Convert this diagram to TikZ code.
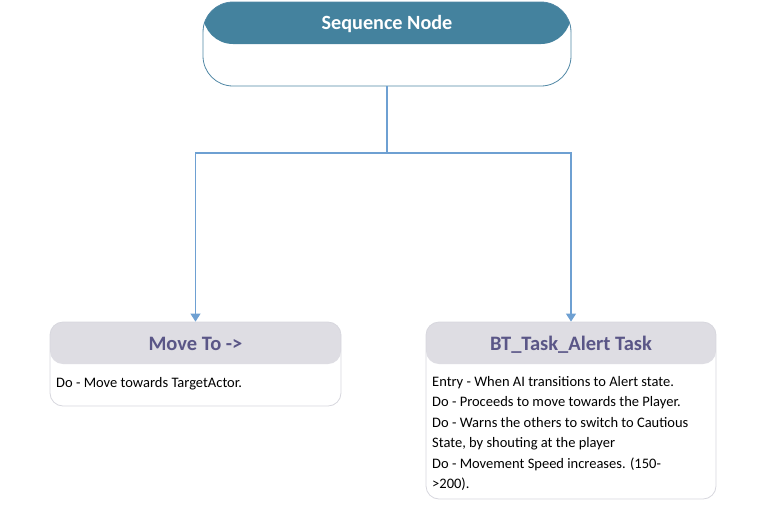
\documentclass[tikz,border=0pt]{standalone}
\usepackage{fontspec}
\setmainfont{Carlito}
\usetikzlibrary{arrows.meta}
\definecolor{seqteal}{RGB}{68,130,158}
\definecolor{seqedge}{RGB}{80,135,165}
\definecolor{hdrgray}{RGB}{222,221,227}
\definecolor{boxedge}{RGB}{215,215,222}
\definecolor{titlepurple}{RGB}{90,86,135}
\definecolor{linkblue}{RGB}{110,160,210}
\tikzset{
  seqbox/.style={draw=seqedge, line width=0.8pt, rounded corners=30pt, inner sep=0pt,
    path picture={\fill[seqteal] (path picture bounding box.north west) rectangle ([yshift=-42pt]path picture bounding box.north east);}},
  taskbox/.style={draw=boxedge, line width=0.8pt, fill=white, rounded corners=13pt, inner sep=0pt,
    path picture={\fill[hdrgray] (path picture bounding box.north west) rectangle ([yshift=-42pt]path picture bounding box.north east);}},
  seqtitle/.style={anchor=base, text=white, font=\fontsize{20.2}{24}\selectfont\bfseries, inner sep=0pt},
  tasktitle/.style={anchor=base, text=titlepurple, font=\fontsize{20.5}{24}\selectfont\bfseries, inner sep=0pt},
  bodytext/.style={anchor=north west, align=left, inner sep=0pt, font=\fontsize{14.5}{20.5}\selectfont},
  link/.style={draw=linkblue, line width=1.1pt, -{Triangle[width=10pt,length=8pt]}},
  linkplain/.style={draw=linkblue, line width=1.1pt}
}
\begin{document}
\begin{tikzpicture}[x=1pt,y=-1pt]
\useasboundingbox (0,0) rectangle (773,515);
\node[seqbox, minimum width=368pt, minimum height=84pt] (seq) at (387,44) {};
\node[seqtitle] (seqt) at (387,29) {Sequence Node};

\node[taskbox, minimum width=291pt, minimum height=84pt] (move) at (195.5,364) {};
\node[tasktitle] (movet) at (195.5,350) {Move To ->};
\node[bodytext] (moveb) at (56,372.65) {\strut Do - Move towards TargetActor.};

\node[taskbox, minimum width=290pt, minimum height=177pt] (alert) at (571,410.5) {};
\node[tasktitle] (alertt) at (571,350) {BT\_Task\_Alert Task};
\node[bodytext] (alertb) at (432,371.65) {\strut Entry - When AI transitions to Alert state.\\
Do - Proceeds to move towards the Player.\\
Do - Warns the others to switch to Cautious\\
State, by shouting at the player\\
Do - Movement Speed increases. (150-\\
>200).};

\coordinate (split) at (387,153);
\draw[linkplain] (seq.south) -- (split);
\draw[link] (split) -| (move.north);
\draw[link] (split) -| (alert.north);
\end{tikzpicture}
\end{document}
